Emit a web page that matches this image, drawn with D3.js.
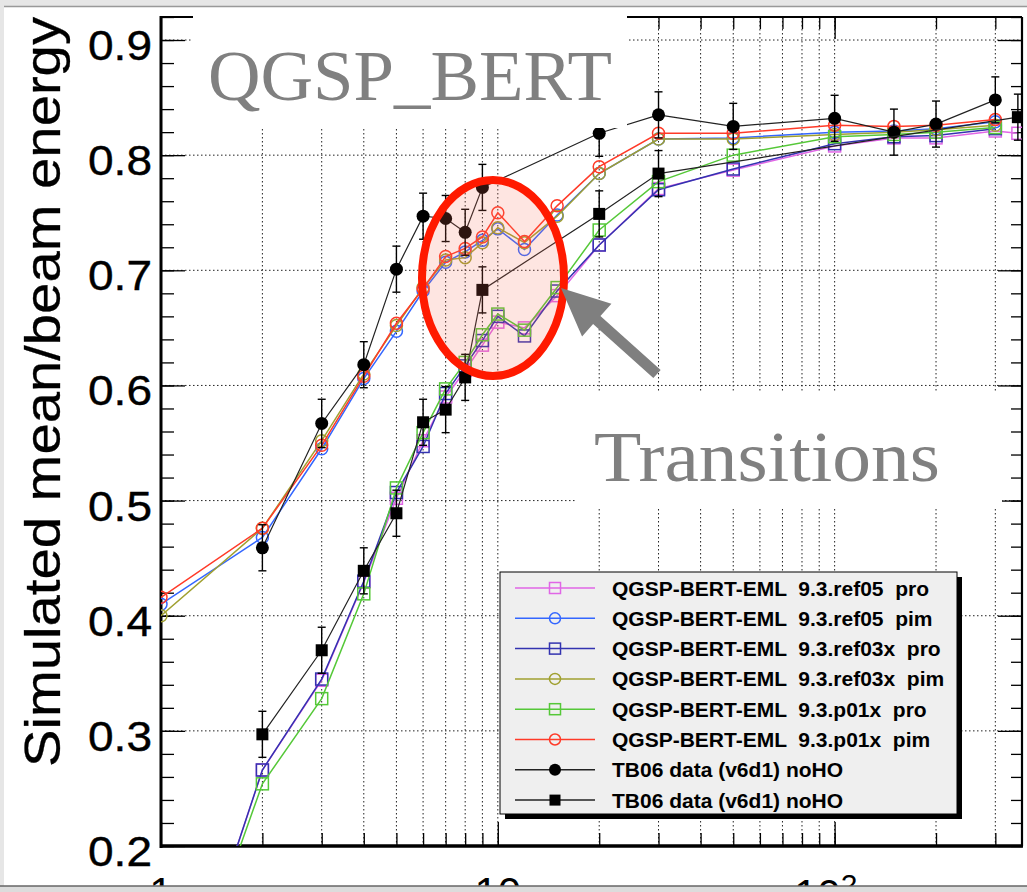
<!DOCTYPE html>
<html><head><meta charset="utf-8">
<script src="https://cdn.jsdelivr.net/npm/d3@7"></script>
<style>html,body{margin:0;padding:0;background:#fff;}svg{display:block;}</style>
</head><body>
<svg id="chart" width="1027" height="892"></svg>
<script>
// ---------------- data ----------------
const energiesSim = [1,2,3,4,5,6,7,8,9,10,12,15,20,30,50,100,150,200,300];
const energiesRef05Pro = [1,2,3,4,5,6,7,8,9,10,12,15,20,30,50,100,150,200,300,350];
const energiesData1 = [2,3,4,5,6,7,8,9,20,30,50,100,150,200,300];
const energiesData2 = [2,3,4,5,6,7,8,9,20,30,350];

const ref05Pro  = [0.0,0.266,0.344,0.429,0.502,0.552,0.590,0.613,0.635,0.655,0.650,0.678,0.722,0.771,0.787,0.808,0.815,0.815,0.821,0.819];
const ref05Pim  = [0.410,0.468,0.545,0.606,0.647,0.682,0.707,0.716,0.726,0.736,0.718,0.748,0.784,0.814,0.815,0.820,0.821,0.823,0.829];
const ref03xPro = [0.0,0.266,0.345,0.430,0.507,0.547,0.593,0.617,0.639,0.660,0.643,0.682,0.722,0.770,0.788,0.810,0.816,0.817,0.823];
const ref03xPim = [0.400,0.476,0.552,0.610,0.652,0.685,0.709,0.711,0.724,0.737,0.724,0.747,0.784,0.814,0.814,0.818,0.820,0.822,0.826];
const p01xPro   = [0.006,0.254,0.328,0.419,0.511,0.559,0.597,0.620,0.644,0.662,0.648,0.685,0.735,0.777,0.800,0.816,0.818,0.820,0.824];
const p01xPim   = [0.416,0.476,0.548,0.608,0.654,0.684,0.712,0.719,0.729,0.750,0.725,0.756,0.790,0.819,0.819,0.826,0.825,0.826,0.831];
const tbPim     = [0.459,0.567,0.618,0.701,0.747,0.745,0.733,0.772,0.819,0.835,0.825,0.832,0.820,0.827,0.848];
const tbPimErr  = [0.020,0.021,0.020,0.020,0.020,0.020,0.020,0.020,0.020,0.020,0.020,0.020,0.020,0.020,0.020];
const tbPro     = [0.297,0.370,0.439,0.489,0.568,0.579,0.607,0.683,0.749,0.784,0.833];
const tbProErr  = [0.020,0.020,0.020,0.020,0.020,0.020,0.020,0.020,0.020,0.020,0.020];

const legendLabels = [
  "QGSP-BERT-EML  9.3.ref05  pro",
  "QGSP-BERT-EML  9.3.ref05  pim",
  "QGSP-BERT-EML  9.3.ref03x  pro",
  "QGSP-BERT-EML  9.3.ref03x  pim",
  "QGSP-BERT-EML  9.3.p01x  pro",
  "QGSP-BERT-EML  9.3.p01x  pim",
  "TB06 data (v6d1) noHO",
  "TB06 data (v6d1) noHO"
];
const yTickValues = [0.2,0.3,0.4,0.5,0.6,0.7,0.8,0.9];
const yTickLabels = ["0.2","0.3","0.4","0.5","0.6","0.7","0.8","0.9"];
const xLabelValues = [1,10,100];
const yTitle = "Simulated mean/beam energy";
const modelLabel = "QGSP_BERT";
const noteLabel = "Transitions";

// ---------------- series table ----------------
const series = [
  {x: energiesRef05Pro, y: ref05Pro,  color:"#e066e6", marker:"osq"},
  {x: energiesSim,      y: ref05Pim,  color:"#3366ff", marker:"oci"},
  {x: energiesSim,      y: ref03xPro, color:"#3333b0", marker:"osq"},
  {x: energiesSim,      y: ref03xPim, color:"#a0a030", marker:"oci"},
  {x: energiesSim,      y: p01xPro,   color:"#55c838", marker:"osq"},
  {x: energiesSim,      y: p01xPim,   color:"#ff3a28", marker:"oci"},
  {x: energiesData1,    y: tbPim, err: tbPimErr, color:"#000", marker:"fci", lineColor:"#222"},
  {x: energiesData2,    y: tbPro, err: tbProErr, color:"#000", marker:"fsq", lineColor:"#222"}
];

// ---------------- layout ----------------
const L = 161, R = 1022, T = 17, B = 846;
const svg = d3.select("#chart");
const x = d3.scaleLog().domain([1, 360]).range([L, R]);
const y = d3.scaleLinear().domain([0.2, 0.92]).range([B, T]);

svg.append("rect").attr("width",1027).attr("height",892).attr("fill","#fff");

// grid
const xMinor = [];
[1,10,100].forEach(d => { for (let k=1;k<10;k++){ const v=d*k; if (v>1 && v<=360) xMinor.push(v);} });
const grid = svg.append("g").attr("stroke","#222").attr("stroke-width",1).attr("stroke-dasharray","1.5,2.5");
grid.selectAll("line.v").data(xMinor).join("line")
  .attr("x1", d=>x(d)).attr("x2", d=>x(d)).attr("y1", T).attr("y2", B);
grid.selectAll("line.h").data(yTickValues.slice(1)).join("line")
  .attr("y1", d=>y(d)).attr("y2", d=>y(d)).attr("x1", L).attr("x2", R);

// axes (ticks drawn inward)
const yMinor = d3.range(0.2, 0.921, 0.02);
const axG = svg.append("g");
axG.append("g").attr("transform",`translate(${L},0)`)
  .call(d3.axisRight(y).tickValues(yMinor).tickSize(13).tickFormat(""));
axG.append("g").attr("transform",`translate(${L},0)`)
  .call(d3.axisRight(y).tickValues(yTickValues).tickSize(24).tickFormat(""));
axG.append("g").attr("transform",`translate(${R},0)`)
  .call(d3.axisLeft(y).tickValues(yMinor).tickSize(11).tickFormat(""));
axG.append("g").attr("transform",`translate(${R},0)`)
  .call(d3.axisLeft(y).tickValues(yTickValues).tickSize(24).tickFormat(""));
axG.append("g").attr("transform",`translate(0,${B})`)
  .call(d3.axisTop(x).tickValues(xMinor).tickSize(13).tickFormat(""));
axG.append("g").attr("transform",`translate(0,${B})`)
  .call(d3.axisTop(x).tickValues(xLabelValues).tickSize(24).tickFormat(""));
axG.append("g").attr("transform",`translate(0,${T})`)
  .call(d3.axisBottom(x).tickValues(xMinor).tickSize(12).tickFormat(""));
axG.append("g").attr("transform",`translate(0,${T})`)
  .call(d3.axisBottom(x).tickValues(xLabelValues).tickSize(22).tickFormat(""));
axG.selectAll(".domain").remove();
axG.selectAll("line").attr("stroke","#000").attr("stroke-width",1.3);
// frame
svg.append("line").attr("x1",L).attr("x2",L).attr("y1",T-1).attr("y2",B+2).attr("stroke","#000").attr("stroke-width",3);
svg.append("line").attr("x1",L-1).attr("x2",R+1).attr("y1",B).attr("y2",B).attr("stroke","#000").attr("stroke-width",3.5);
svg.append("line").attr("x1",L).attr("x2",R).attr("y1",T).attr("y2",T).attr("stroke","#000").attr("stroke-width",2.2);
svg.append("line").attr("x1",R).attr("x2",R).attr("y1",T).attr("y2",B).attr("stroke","#000").attr("stroke-width",2.2);

// tick labels
svg.append("g").selectAll("text").data(yTickValues).join("text")
  .attr("x", 152).attr("y", d=>y(d)+20)
  .attr("text-anchor","end").attr("font-family","Liberation Sans, Arial, sans-serif")
  .attr("font-size",42).attr("textLength",64).attr("lengthAdjust","spacingAndGlyphs")
  .attr("stroke","#000").attr("stroke-width",0.4)
  .text((d,i)=>yTickLabels[i]);

// bottom labels (cut by page edge, as in the reference)
const bl = svg.append("g").attr("font-family","Liberation Sans, Arial, sans-serif").attr("font-size",42).attr("fill","#000");
bl.append("text").attr("x", x(1)).attr("y", 907).attr("text-anchor","middle").text("1");
bl.append("text").attr("x", x(10)).attr("y", 907).attr("text-anchor","middle").text("10");
const t100 = bl.append("text").attr("x", x(100)-9).attr("y", 909).attr("text-anchor","middle");
t100.append("tspan").text("10");
t100.append("tspan").attr("font-size",30).attr("dy",-14).text("2");

// y title
svg.append("text").attr("transform","translate(60,767) rotate(-90)")
  .attr("font-family","Liberation Sans, Arial, sans-serif").attr("font-size",50)
  .attr("stroke","#000").attr("stroke-width",0.3)
  .attr("textLength",750).attr("lengthAdjust","spacingAndGlyphs").text(yTitle);

// ---------------- data marks ----------------
svg.append("clipPath").attr("id","plotclip").append("rect")
  .attr("x",L).attr("y",T).attr("width",R-L).attr("height",B-T);
const plot = svg.append("g").attr("clip-path","url(#plotclip)");

function drawMarker(g, type, color, size) {
  const r = size || 6;
  if (type === "osq") g.append("rect").attr("x",-r).attr("y",-r).attr("width",2*r).attr("height",2*r).attr("fill","none").attr("stroke",color).attr("stroke-width",1.5);
  else if (type === "oci") g.append("circle").attr("r",r).attr("fill","none").attr("stroke",color).attr("stroke-width",1.5);
  else if (type === "fci") g.append("circle").attr("r",r+0.5).attr("fill",color);
  else if (type === "fsq") g.append("rect").attr("x",-r).attr("y",-r).attr("width",2*r).attr("height",2*r).attr("fill",color);
}

const line = d3.line().x(d=>x(d[0])).y(d=>y(d[1]));
series.forEach(s => {
  const pts = s.x.map((e,i)=>[e, s.y[i], s.err ? s.err[i] : 0]);
  const g = plot.append("g");
  g.append("path").attr("d", line(pts)).attr("fill","none")
    .attr("stroke", s.lineColor || s.color).attr("stroke-width", s.lineColor ? 1.2 : 1.5);
  if (s.err) {
    pts.forEach(p => {
      const xp = x(p[0]);
      g.append("line").attr("x1",xp).attr("x2",xp).attr("y1",y(p[1]-p[2])).attr("y2",y(p[1]+p[2])).attr("stroke","#000").attr("stroke-width",1.4);
      [p[1]-p[2], p[1]+p[2]].forEach(v => g.append("line").attr("x1",xp-4).attr("x2",xp+4).attr("y1",y(v)).attr("y2",y(v)).attr("stroke","#000").attr("stroke-width",1.4));
    });
  }
  pts.forEach(p => {
    const m = g.append("g").attr("transform",`translate(${x(p[0])},${y(p[1])})`);
    drawMarker(m, s.marker, s.color);
  });
});

// ---------------- annotations ----------------
svg.append("rect").attr("x",193).attr("y",8).attr("width",434).attr("height",120).attr("fill","#fff");
svg.append("text").attr("x",208).attr("y",100).attr("font-family","Liberation Serif, DejaVu Serif, serif")
  .attr("font-size",72).attr("fill","#808080").attr("textLength",404).attr("lengthAdjust","spacingAndGlyphs").text(modelLabel);

svg.append("rect").attr("x",577).attr("y",392).attr("width",425).attr("height",115).attr("fill","#fff");
svg.append("text").attr("x",594).attr("y",481).attr("font-family","Liberation Serif, DejaVu Serif, serif")
  .attr("font-size",72).attr("fill","#808080").attr("textLength",346).attr("lengthAdjust","spacingAndGlyphs").text(noteLabel);

svg.append("ellipse").attr("cx",493).attr("cy",278).attr("rx",71).attr("ry",98)
  .attr("fill","rgba(250,110,90,0.18)").attr("stroke","#ff1a00").attr("stroke-width",8);

(function(){
  const tip=[561,288], tail=[657,374];
  const dx=tail[0]-tip[0], dy=tail[1]-tip[1], len=Math.hypot(dx,dy);
  const ux=dx/len, uy=dy/len, px=-uy, py=ux;
  const hl=48, hw=22, sw=5.5;
  const b=[tip[0]+ux*hl, tip[1]+uy*hl];
  const pts=[tip,
    [b[0]+px*hw,b[1]+py*hw],[b[0]+px*sw,b[1]+py*sw],
    [tail[0]+px*sw,tail[1]+py*sw],[tail[0]-px*sw,tail[1]-py*sw],
    [b[0]-px*sw,b[1]-py*sw],[b[0]-px*hw,b[1]-py*hw]];
  svg.append("polygon").attr("points",pts.map(p=>p.join(",")).join(" ")).attr("fill","#7f7f7f");
})();

// ---------------- legend ----------------
const lg = svg.append("g");
lg.append("rect").attr("x",505).attr("y",577).attr("width",457).attr("height",242).attr("fill","#000");
lg.append("rect").attr("x",500).attr("y",572).attr("width",457).attr("height",242).attr("fill","#efefef").attr("stroke","#000").attr("stroke-width",1);
series.forEach((s,i) => {
  const yy = 588 + i*30.3;
  lg.append("line").attr("x1",515).attr("x2",595).attr("y1",yy).attr("y2",yy).attr("stroke",s.lineColor||s.color).attr("stroke-width",1.5);
  const m = lg.append("g").attr("transform",`translate(555,${yy})`);
  drawMarker(m, s.marker, s.color, 5.5);
  lg.append("text").attr("x",612).attr("y",yy+7.5).attr("font-family","Liberation Sans, Arial, sans-serif")
    .attr("font-weight","bold").attr("font-size",21).attr("xml:space","preserve").style("white-space","pre").text(legendLabels[i]);
});

// ---------------- page edges ----------------
svg.append("rect").attr("x",0).attr("y",0).attr("width",1027).attr("height",6).attr("fill","#e6e6e6");
svg.append("line").attr("x1",4).attr("x2",1027).attr("y1",6.5).attr("y2",6.5).attr("stroke","#999").attr("stroke-width",1.5);
svg.append("rect").attr("x",0).attr("y",0).attr("width",4).attr("height",892).attr("fill","#e6e6e6");
svg.append("rect").attr("x",0).attr("y",886).attr("width",1027).attr("height",6).attr("fill","#dcdcdc");
svg.append("line").attr("x1",0).attr("x2",1027).attr("y1",886).attr("y2",886).attr("stroke","#666").attr("stroke-width",1.5);
</script>
</body></html>
